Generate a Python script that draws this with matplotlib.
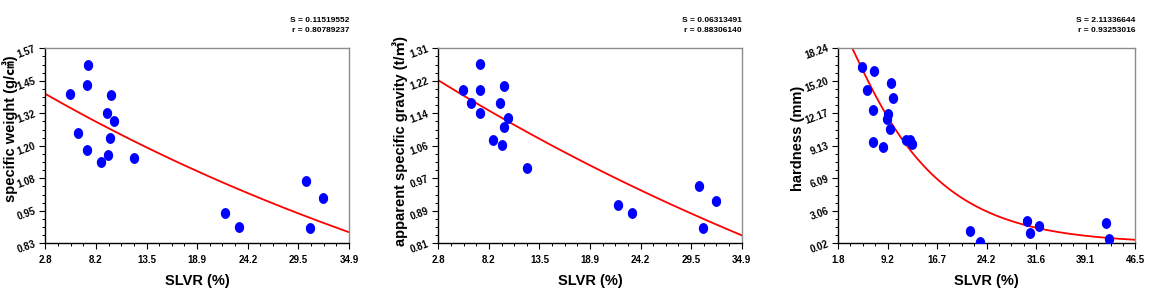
import matplotlib
matplotlib.use('Agg')
import matplotlib.pyplot as plt
import numpy as np
from matplotlib.ticker import AutoMinorLocator

plt.rcParams['font.family'] = ['Liberation Sans', 'Noto Sans CJK SC', 'DejaVu Sans']
plt.rcParams['font.weight'] = 'bold'
plt.rcParams['axes.labelweight'] = 'bold'

# --- panel 1: specific weight vs SLVR ---
sw_x = [5.44, 7.27, 7.20, 9.78, 9.35, 10.09, 6.25, 9.67, 7.20, 9.46, 8.68, 12.17,
        21.76, 23.24, 30.35, 32.12, 30.74]
sw_y = [1.397, 1.508, 1.432, 1.393, 1.325, 1.296, 1.247, 1.230, 1.185, 1.164, 1.137, 1.153,
        0.944, 0.893, 1.067, 1.001, 0.887]
sw_fit = (1.4557, -0.01468)          # y = a*exp(b*x)
sw_xlim = (2.8, 34.9)
sw_ylim = (0.83, 1.57)
sw_xticks = ['2.8', '8.2', '13.5', '18.9', '24.2', '29.5', '34.9']
sw_yticks = ['0.83', '0.95', '1.08', '1.20', '1.32', '1.45', '1.57']
sw_stats = ['S = 0.11519552', 'r = 0.80789237']

# --- panel 2: apparent specific gravity vs SLVR ---
ag_x = [5.45, 7.24, 7.17, 9.74, 9.35, 6.26, 7.17, 10.13, 9.70, 8.64, 9.49, 12.17,
        21.78, 23.26, 30.35, 32.15, 30.77]
ag_y = [1.202, 1.271, 1.202, 1.213, 1.170, 1.169, 1.145, 1.131, 1.107, 1.075, 1.063, 1.004,
        0.907, 0.887, 0.956, 0.919, 0.849]
ag_fit = (1.2706, -0.012184)         # y = a*exp(b*x)
ag_xlim = (2.8, 34.9)
ag_ylim = (0.81, 1.31)
ag_xticks = ['2.8', '8.2', '13.5', '18.9', '24.2', '29.5', '34.9']
ag_yticks = ['0.81', '0.89', '0.97', '1.06', '1.14', '1.22', '1.31']
ag_stats = ['S = 0.06313491', 'r = 0.88306140']

# --- panel 3: hardness vs SLVR ---
hd_x = [5.46, 7.16, 6.16, 9.72, 10.02, 7.06, 9.32, 9.17, 9.62, 7.06, 8.62, 12.07, 12.67, 12.87,
        21.64, 23.15, 30.16, 30.66, 32.01, 42.09, 42.59]
hd_y = [16.50, 16.12, 14.32, 15.03, 13.57, 12.48, 12.13, 11.61, 10.70, 9.49, 9.02, 9.64, 9.64, 9.33,
        1.14, 0.14, 2.11, 0.99, 1.61, 1.95, 0.39]
hd_fit = (3.1451, -0.09929, 0.1097)  # ln y = a + b*x + c*ln(x)
hd_xlim = (1.8, 46.5)
hd_ylim = (0.02, 18.24)
hd_xticks = ['1.8', '9.2', '16.7', '24.2', '31.6', '39.1', '46.5']
hd_yticks = ['0.02', '3.06', '6.09', '9.13', '12.17', '15.20', '18.24']
hd_stats = ['S = 2.11336644', 'r = 0.93253016']

W, H = 1153, 297
fig = plt.figure(figsize=(W / 100, H / 100), dpi=100)

# slightly tall dots, like the reference
t = np.linspace(0, 2 * np.pi, 41)
dot = np.column_stack([0.84 * np.cos(t), np.sin(t)])


def panel(left, right, x, y, fitfun, xlim, ylim, xt, yt, ylabel, ylab_pos, stats):
    top, bottom = 48.3, 243.3
    ax = fig.add_axes([left / W, 1 - bottom / H, (right - left) / W, (bottom - top) / H])
    ax.plot(x, y, linestyle='none', marker=dot, markersize=6.8, color='#0000ff', zorder=3)
    xs = np.linspace(xlim[0], xlim[1], 400)
    ax.plot(xs, fitfun(xs), color='#ff0000', lw=1.3, zorder=2)
    ax.set_xlim(xlim)
    ax.set_ylim(ylim)
    ax.set_xticks(np.linspace(xlim[0], xlim[1], len(xt)))
    ax.set_xticklabels(xt)
    ax.set_yticks(np.linspace(ylim[0], ylim[1], len(yt)))
    ax.set_yticklabels(yt, rotation=20, ha='right', va='center', rotation_mode='anchor')
    ax.xaxis.set_minor_locator(AutoMinorLocator(4))
    ax.yaxis.set_minor_locator(AutoMinorLocator(4))
    ax.tick_params(which='major', length=4.5, width=0.8, labelsize=7, pad=2.5)
    ax.tick_params(axis='x', which='major', pad=4)
    ax.tick_params(which='minor', length=2.5, width=0.7)
    for s in ['left', 'bottom']:
        ax.spines[s].set_color('black')
        ax.spines[s].set_linewidth(1.0)
    for s in ['top', 'right']:
        ax.spines[s].set_color('#8c8c8c')
        ax.spines[s].set_linewidth(1.0)
    ax.set_xlabel('SLVR (%)', fontsize=10.5, fontweight='bold',
                  family=['Liberation Sans Narrow', 'Liberation Sans', 'DejaVu Sans'])
    ax.xaxis.set_label_coords(0.5, -(280.7 - bottom) / (bottom - top), transform=ax.transAxes)
    ax.xaxis.label.set_va('center')
    ax.set_ylabel(ylabel, fontsize=10.5, fontweight='bold')
    ax.yaxis.set_label_coords(ylab_pos[0], ylab_pos[1])
    ax.yaxis.label.set_va('center')
    fig.text(right / W, 1 - 20.7 / H, stats[0], ha='right', va='center', fontsize=6, fontweight='bold')
    fig.text(right / W, 1 - 30.7 / H, stats[1], ha='right', va='center', fontsize=6, fontweight='bold')
    return ax


panel(45.3, 349.0, sw_x, sw_y, lambda v: sw_fit[0] * np.exp(sw_fit[1] * v),
      sw_xlim, sw_ylim, sw_xticks, sw_yticks, 'specific weight (g/\u33a4)', (-0.116, 0.59), sw_stats)
panel(438.3, 741.7, ag_x, ag_y, lambda v: ag_fit[0] * np.exp(ag_fit[1] * v),
      ag_xlim, ag_ylim, ag_xticks, ag_yticks, 'apparent specific gravity (t/\u33a5)', (-0.126, 0.525), ag_stats)
panel(838.0, 1135.3, hd_x, hd_y,
      lambda v: np.exp(hd_fit[0] + hd_fit[1] * v + hd_fit[2] * np.log(v)),
      hd_xlim, hd_ylim, hd_xticks, hd_yticks, 'hardness (mm)', (-0.136, 0.54), hd_stats)

fig.savefig('out.png', dpi=100)
